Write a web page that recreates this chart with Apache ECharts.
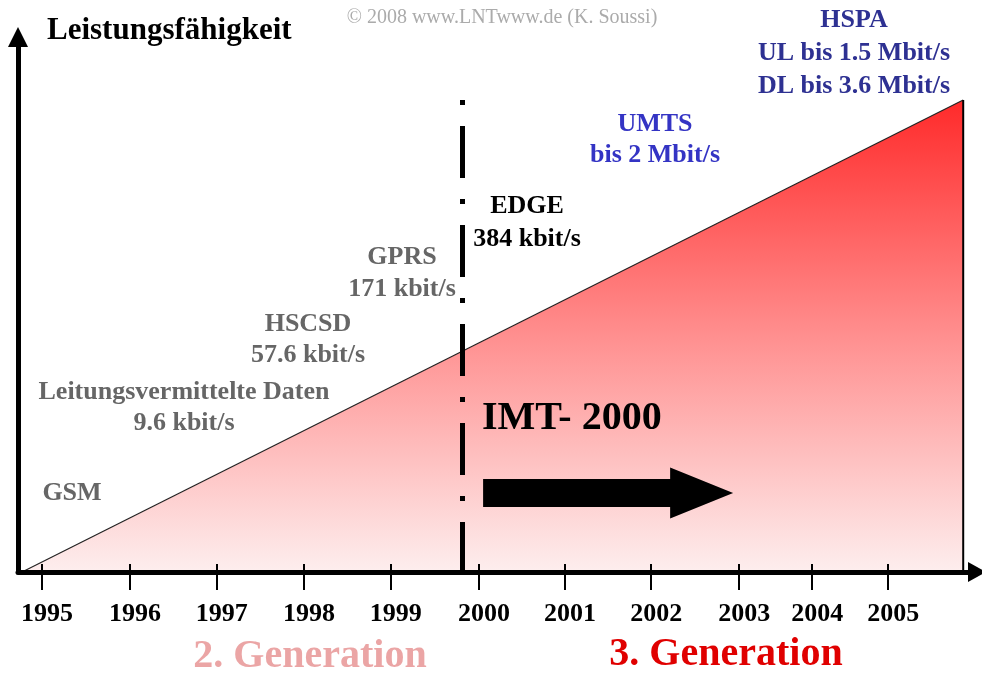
<!DOCTYPE html>
<html>
<head>
<meta charset="utf-8">
<title>Mobilfunk-Generationen</title>
<style>
  html, body { margin: 0; padding: 0; background: #fff; }
  #chart { width: 982px; height: 673px; }
</style>
<script src="https://cdn.jsdelivr.net/npm/echarts@6/dist/echarts.min.js"></script>
</head>
<body>
<div id="chart"></div>
<script>
// Tick labels and where the ticks sit on the (slightly irregular) year axis
const years = ['1995', '1996', '1997', '1998', '1999', '2000', '2001', '2002', '2003', '2004', '2005'];
const tickPos = [1995.0, 1996.04, 1997.065, 1998.097, 1999.122, 2000.165, 2001.182, 2002.199, 2003.239, 2004.102, 2005.0];

// Capability ramp (year, relative capability)
const capability = [[1994.764, 0], [2005.887, 100]];
const rampEnd = [[2005.887, 0], [2005.887, 100]];

// Border between 2nd and 3rd generation
const generationBoundary = 1999.965;

// IMT-2000 arrow: start year, level, end year
const imtArrow = [[2000.213, 16.74, 2003.168]];

// Technologies and their data rates
const techNames = ['GSM', 'Leitungsvermittelte Daten', 'HSCSD', 'GPRS', 'EDGE', 'UMTS', 'HSPA'];
const techRates = ['', '9.6 kbit/s', '57.6 kbit/s', '171 kbit/s', '384 kbit/s', 'bis 2 Mbit/s', 'UL bis 1.5 Mbit/s\nDL bis 3.6 Mbit/s'];

// where each technology label is printed (pixels) and its colour
const techLayout = [
    { x: 72, y: 493, lh: 31, color: '#666666' },
    { x: 184, y: 408, lh: 31, color: '#666666' },
    { x: 308, y: 340, lh: 31, color: '#666666' },
    { x: 402, y: 273, lh: 32, color: '#666666' },
    { x: 527, y: 223, lh: 33, color: '#000000' },
    { x: 655, y: 140, lh: 31, color: '#3434c4' },
    { x: 854, y: 53, lh: 33, color: '#2e3192' }
];

const serif = '"Liberation Serif", "Times New Roman", serif';

const chart = echarts.init(document.getElementById('chart'));

const techText = techNames.map((name, i) => {
    const l = techLayout[i];
    return {
        type: 'text',
        x: l.x,
        y: l.y,
        z: 10,
        style: {
            text: techRates[i] ? name + '\n' + techRates[i] : name,
            font: 'bold 26px ' + serif,
            fill: l.color,
            align: 'center',
            verticalAlign: 'middle',
            textAlign: 'center',
            textVerticalAlign: 'middle',
            lineHeight: l.lh
        }
    };
});

function yearLabel(v) {
    for (let i = 0; i < tickPos.length; i++) {
        if (Math.abs(tickPos[i] - v) < 1e-6) return years[i];
    }
    return '';
}

const xMin = 1994.7163;
const xMax = 2006.05;

const option = {
    animation: false,
    grid: { left: 18, right: 5, top: 37, bottom: 101 },
    xAxis: [
        {
            type: 'value',
            min: xMin,
            max: xMax,
            z: 5,
            splitLine: { show: false },
            axisLine: {
                show: true,
                symbol: ['none', 'triangle'],
                symbolSize: [20, 18],
                lineStyle: { color: '#000', width: 5 }
            },
            axisTick: {
                show: true,
                customValues: tickPos,
                length: 18,
                lineStyle: { color: '#000', width: 2 }
            },
            axisLabel: {
                show: true,
                customValues: tickPos,
                formatter: yearLabel,
                margin: 29,
                padding: [0, 0, 0, 10],
                fontFamily: serif,
                fontWeight: 'bold',
                fontSize: 26,
                lineHeight: 26,
                color: '#000'
            }
        },
        {
            // short tick stubs above the axis line
            type: 'value',
            position: 'bottom',
            min: xMin,
            max: xMax,
            z: 5,
            splitLine: { show: false },
            axisLine: { show: false },
            axisTick: {
                show: true,
                inside: true,
                customValues: tickPos,
                length: 8,
                lineStyle: { color: '#000', width: 2 }
            },
            axisLabel: { show: false }
        }
    ],
    yAxis: {
        type: 'value',
        min: 0,
        max: 113.35,
        z: 5,
        splitLine: { show: false },
        axisTick: { show: false },
        axisLabel: { show: false },
        axisLine: {
            show: true,
            symbol: ['none', 'triangle'],
            symbolSize: [20, 20],
            lineStyle: { color: '#000', width: 5 }
        }
    },
    series: [
        {
            type: 'line',
            data: capability,
            symbol: 'none',
            z: 2,
            lineStyle: { color: '#222', width: 1.2 },
            areaStyle: {
                opacity: 1,
                color: new echarts.graphic.LinearGradient(0, 0, 0, 1, [
                    { offset: 0, color: '#ff2a2a' },
                    { offset: 0.5, color: '#ff8f8f' },
                    { offset: 1, color: '#fdeeee' }
                ])
            },
            markLine: {
                silent: true,
                symbol: ['none', 'none'],
                label: { show: false },
                lineStyle: { color: '#000', width: 5, type: [5, 21, 52, 21], cap: 'butt' },
                data: [[
                    { coord: [generationBoundary, 100] },
                    { coord: [generationBoundary, 0] }
                ]]
            }
        },
        {
            type: 'line',
            data: rampEnd,
            symbol: 'none',
            z: 3,
            lineStyle: { color: '#000', width: 2 }
        },
        {
            type: 'custom',
            z: 4,
            data: imtArrow,
            encode: { x: [0, 2], y: 1 },
            renderItem: function (params, api) {
                const a = api.coord([api.value(0), api.value(1)]);
                const b = api.coord([api.value(2), api.value(1)]);
                const shaft = 14, head = 25.5, headLen = 63;
                const hx = b[0] - headLen;
                return {
                    type: 'polygon',
                    shape: {
                        points: [
                            [a[0], a[1] - shaft], [hx, a[1] - shaft], [hx, a[1] - head],
                            [b[0], a[1]],
                            [hx, a[1] + head], [hx, a[1] + shaft], [a[0], a[1] + shaft]
                        ]
                    },
                    style: { fill: '#000' }
                };
            }
        }
    ],
    graphic: [
        {
            type: 'text', x: 47, y: 31, z: 10,
            style: {
                text: 'Leistungsfähigkeit', font: 'bold 31px ' + serif, fill: '#000',
                align: 'left', verticalAlign: 'middle', textAlign: 'left', textVerticalAlign: 'middle'
            }
        },
        {
            type: 'text', x: 502, y: 18, z: 10,
            style: {
                text: '© 2008 www.LNTwww.de (K. Soussi)', font: '20px ' + serif, fill: '#ababab',
                align: 'center', verticalAlign: 'middle', textAlign: 'center', textVerticalAlign: 'middle'
            }
        },
        {
            type: 'text', x: 482, y: 419, z: 10,
            style: {
                text: 'IMT- 2000', font: 'bold 40px ' + serif, fill: '#000',
                align: 'left', verticalAlign: 'middle', textAlign: 'left', textVerticalAlign: 'middle'
            }
        },
        {
            type: 'text', x: 310, y: 657, z: 10,
            style: {
                text: '2. Generation', font: 'bold 40px ' + serif, fill: '#eba5a5',
                align: 'center', verticalAlign: 'middle', textAlign: 'center', textVerticalAlign: 'middle'
            }
        },
        {
            type: 'text', x: 726, y: 655, z: 10,
            style: {
                text: '3. Generation', font: 'bold 40px ' + serif, fill: '#e00000',
                align: 'center', verticalAlign: 'middle', textAlign: 'center', textVerticalAlign: 'middle'
            }
        }
    ].concat(techText)
};

chart.setOption(option);
</script>
</body>
</html>
